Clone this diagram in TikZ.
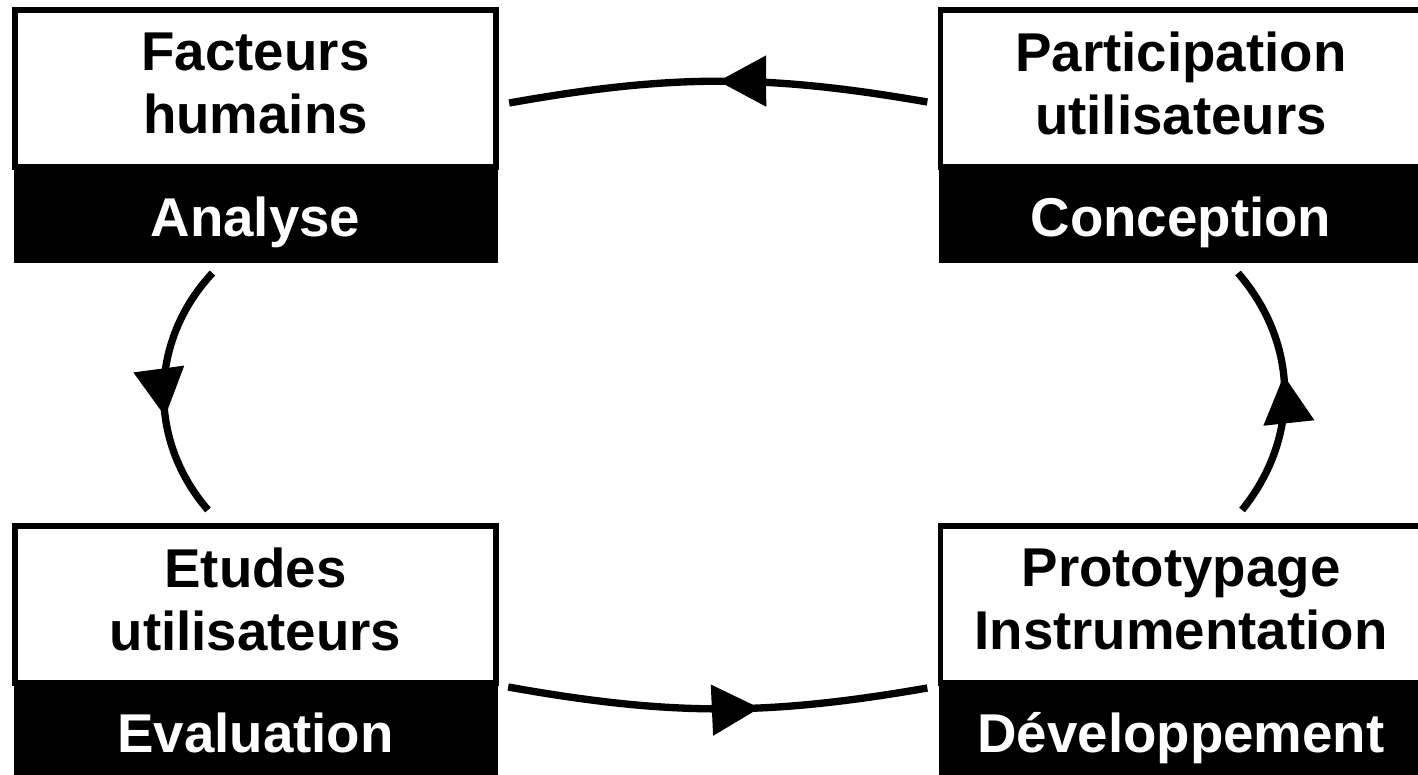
\documentclass[tikz,border=0pt]{standalone}
\usepackage{fontspec}
\setmainfont{Liberation Sans}
\usetikzlibrary{positioning,arrows.meta,decorations.markings}

\tikzset{
	every picture/.style={line width=0.75pt},
	topbox/.style={draw, line width=4.1pt, fill=white, minimum width=361pt, minimum height=117.75pt, inner sep=0pt, outer sep=0pt, align=center, font=\fontsize{41}{47}\selectfont\bfseries, execute at end node={\rule[-7.5pt]{0pt}{7.5pt}}},
	phasebox/.style={fill=black, text=white, minimum width=363pt, minimum height=72pt, inner sep=0pt, outer sep=0pt, text height=32pt, text depth=0pt, font=\fontsize{41}{47}\selectfont\bfseries},
	cycle arrow/.style={line width=5.5pt, postaction={decorate}, decoration={markings, mark=at position #1 with {\arrow{Triangle[length=36pt,width=37pt]}}}}
}

\begin{document}
\begin{tikzpicture}[x=0.75pt,y=0.75pt,yscale=-1,xscale=1]
	\useasboundingbox (0,0) rectangle (1418,775);

	% Analyse
	\node[topbox] (fh) at (255.5,88.5) {Facteurs\\humains};
	\node[phasebox, below=0pt of fh] (an) {Analyse};
	% Conception
	\node[topbox] (pu) at (1181,88.5) {Participation\\utilisateurs};
	\node[phasebox, below=0pt of pu] (co) {Conception};
	% Evaluation
	\node[topbox] (eu) at (255.5,604.5) {Etudes\\utilisateurs};
	\node[phasebox, below=0pt of eu] (ev) {Evaluation};
	% Developpement
	\node[topbox] (pi) at (1181,604.5) {Prototypage\\Instrumentation};
	\node[phasebox, below=0pt of pi] (de) {Développement};

	%Curve Lines
	\draw[cycle arrow=0.5] ([shift={(-13,13.5)}]pu.west) to[bend left=10] ([shift={(13,14.5)}]fh.east);
	%Curve Lines
	\draw[cycle arrow=0.6] ([shift={(-43,10)}]an.south) to[bend left=42] ([shift={(-47.5,-16)}]eu.north);
	%Curve Lines
	\draw[cycle arrow=0.6] ([shift={(12,4)}]eu.south east) to[bend left=10] ([shift={(-13,5)}]pi.south west);
	%Curve Lines
	\draw[cycle arrow=0.56] ([shift={(61,-16)}]pi.north) to[bend left=40] ([shift={(57,10)}]co.south);

\end{tikzpicture}
\end{document}
